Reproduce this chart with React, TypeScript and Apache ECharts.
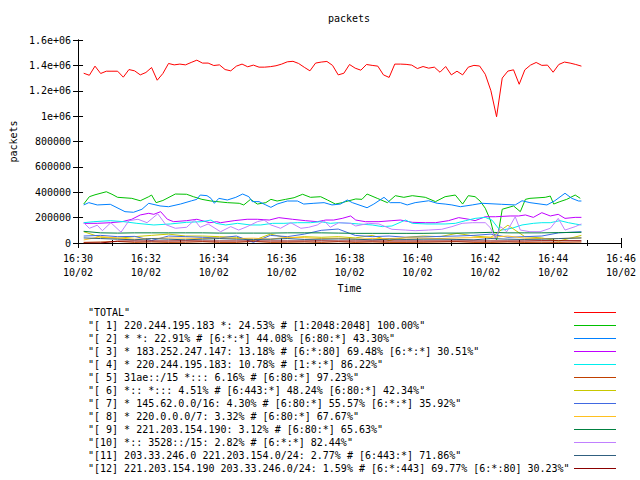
import React, { useEffect, useRef } from "react";
import * as echarts from "echarts";

const FONT = "'DejaVu Sans Mono', 'Liberation Mono', monospace";
const START_HOUR = 16;
const START_MIN = 30;
const DATE_LABEL = "10/02";

const legendNames = [
  '"TOTAL"',
  '"[ 1] 220.244.195.183 *: 24.53% # [1:2048:2048] 100.00%"',
  '"[ 2] * *: 22.91% # [6:*:*] 44.08% [6:80:*] 43.30%"',
  '"[ 3] * 183.252.247.147: 13.18% # [6:*:80] 69.48% [6:*:*] 30.51%"',
  '"[ 4] * 220.244.195.183: 10.78% # [1:*:*] 86.22%"',
  '"[ 5] 31ae::/15 *::: 6.16% # [6:80:*] 97.23%"',
  '"[ 6] *:: *::: 4.51% # [6:443:*] 48.24% [6:80:*] 42.34%"',
  '"[ 7] * 145.62.0.0/16: 4.30% # [6:80:*] 55.57% [6:*:*] 35.92%"',
  '"[ 8] * 220.0.0.0/7: 3.32% # [6:80:*] 67.67%"',
  '"[ 9] * 221.203.154.190: 3.12% # [6:80:*] 65.63%"',
  '"[10] *:: 3528::/15: 2.82% # [6:*:*] 82.44%"',
  '"[11] 203.33.246.0 221.203.154.0/24: 2.77% # [6:443:*] 71.86%"',
  '"[12] 221.203.154.190 203.33.246.0/24: 1.59% # [6:*:443] 69.77% [6:*:80] 30.23%"',
];

const colors = [
  "#ff0000", "#00c000", "#0080ff", "#c000ff", "#00eeee", "#c04000", "#c8c800",
  "#4169e1", "#ffc020", "#008040", "#c080ff", "#306080", "#8b0000",
];

// TOTAL, thousands of packets, one sample every 10 s from 16:30:10
const totalValues = [
  1338, 1322, 1394, 1336, 1354, 1354, 1354, 1307, 1367, 1357,
  1325, 1344, 1383, 1283, 1336, 1415, 1404, 1410, 1404, 1423,
  1441, 1418, 1418, 1399, 1404, 1367, 1357, 1394, 1410, 1389,
  1402, 1386, 1386, 1390, 1397, 1410, 1428, 1432, 1415, 1385,
  1357, 1418, 1426, 1431, 1400, 1325, 1338, 1407, 1378, 1362,
  1407, 1400, 1394, 1325, 1305, 1410, 1410, 1408, 1402, 1375,
  1391, 1378, 1386, 1346, 1391, 1325, 1354, 1325, 1386, 1400,
  1395, 1330, 1200, 995, 1300, 1355, 1365, 1251, 1365, 1402,
  1423, 1400, 1402, 1346, 1407, 1426, 1418, 1407, 1394,
];
const totalTimes = totalValues.map((_, i) => 10 + 10 * i);

// [seconds after 16:30, thousands of packets]
const s1: [number, number][] = [
  [10, 307], [20, 365], [30, 380], [50, 404], [60, 384], [70, 360], [95, 352], [110, 333],
  [125, 365], [130, 378], [138, 318], [150, 335], [172, 386], [192, 384], [204, 365],
  [219, 344], [235, 331], [264, 318], [285, 313], [293, 300], [305, 344], [317, 307],
  [332, 318], [341, 344], [352, 331], [367, 344], [382, 357], [397, 384], [411, 360],
  [429, 365], [441, 339], [455, 307], [467, 318], [473, 326], [491, 347], [502, 344],
  [511, 386], [529, 352], [547, 318], [561, 373], [576, 360], [591, 373], [614, 360],
  [632, 326], [649, 365], [667, 378], [680, 307], [690, 373], [702, 365], [711, 330],
  [720, 274], [729, 181], [735, 76], [740, 24], [745, 128], [750, 266], [770, 292],
  [782, 247], [791, 344], [799, 352], [826, 360], [835, 370], [841, 307], [852, 326],
  [864, 344], [879, 378], [888, 352],
];
const s2: [number, number][] = [
  [10, 300], [19, 318], [34, 300], [57, 305], [83, 247], [98, 242], [113, 266], [125, 313],
  [145, 292], [160, 286], [181, 307], [201, 333], [210, 344], [216, 378], [228, 373],
  [235, 352], [241, 313], [249, 352], [264, 339], [279, 360], [291, 386], [302, 365],
  [308, 326], [320, 326], [332, 300], [341, 281], [352, 307], [370, 331], [388, 331],
  [399, 307], [417, 313], [435, 318], [449, 300], [464, 307], [476, 339], [485, 318],
  [511, 278], [523, 307], [541, 360], [552, 318], [570, 318], [582, 300], [596, 318],
  [620, 333], [635, 313], [649, 307], [661, 300], [676, 286], [697, 300], [714, 313],
  [749, 305], [773, 300], [785, 333], [799, 318], [829, 300], [843, 333], [861, 392],
  [873, 352], [885, 331], [890, 331],
];
const s3: [number, number][] = [
  [10, 155], [34, 155], [57, 160], [78, 168], [95, 187], [110, 221], [125, 234], [134, 226],
  [146, 247], [158, 187], [169, 168], [192, 176], [210, 187], [233, 160], [245, 168],
  [252, 160], [276, 176], [299, 187], [317, 187], [338, 181], [355, 200], [379, 187],
  [402, 176], [423, 168], [438, 181], [452, 181], [467, 194], [482, 213], [491, 181],
  [508, 168], [532, 168], [555, 176], [570, 181], [591, 163], [614, 160], [632, 160],
  [655, 176], [673, 200], [691, 187], [702, 176], [720, 207], [738, 207], [764, 213],
  [779, 213], [791, 221], [805, 202], [820, 239], [835, 213], [849, 226], [861, 194],
  [879, 202], [890, 202],
];
const s4: [number, number][] = [
  [10, 160], [28, 168], [57, 176], [81, 168], [104, 155], [134, 142], [163, 150], [192, 163],
  [219, 168], [235, 181], [244, 155], [261, 142], [282, 155], [305, 142], [323, 142],
  [344, 155], [364, 155], [388, 160], [411, 160], [429, 168], [446, 155], [461, 160],
  [482, 155], [496, 150], [520, 142], [538, 129], [555, 134], [579, 181], [591, 155],
  [617, 150], [649, 150], [667, 155], [685, 176], [702, 194], [720, 202], [732, 180],
  [746, 100], [767, 116], [785, 142], [805, 155], [820, 160], [835, 160], [852, 176],
  [867, 160], [879, 150], [890, 142],
];
const s10: [number, number][] = [
  [10, 160], [20, 116], [34, 140], [43, 97], [58, 160], [76, 85], [90, 176], [106, 187],
  [122, 160], [141, 230], [155, 145], [172, 116], [192, 124], [206, 181], [216, 124],
  [230, 150], [252, 89], [270, 129], [284, 102], [299, 129], [317, 168], [329, 181],
  [341, 142], [358, 116], [376, 160], [394, 116], [408, 124], [423, 142], [435, 176],
  [446, 124], [461, 160], [482, 155], [491, 134], [514, 155], [532, 150], [555, 108],
  [579, 102], [596, 97], [620, 102], [643, 108], [661, 129], [679, 155], [697, 160],
  [720, 160], [729, 120], [738, 37], [747, 129], [758, 89], [773, 207], [782, 102],
  [799, 89], [817, 89], [835, 116], [849, 194], [861, 102], [879, 129], [890, 150],
];

// low-volume hosts, sampled every 30 s
const lowTimes = [
  10, 40, 70, 100, 130, 160, 190, 220, 250, 280, 310, 340, 370, 400, 430,
  460, 490, 520, 550, 580, 610, 640, 670, 700, 730, 760, 790, 820, 850, 890,
];
const s5 = [5, 8, 12, 5, 8, 5, 6, 10, 5, 5, 12, 5, 6, 8, 5, 10, 5, 8, 5, 5, 6, 8, 10, 5, 5, 8, 5, 6, 5, 8];
const s6 = [89, 45, 37, 50, 60, 70, 55, 55, 50, 45, 20, 70, 40, 50, 45, 50, 40, 60, 20, 45, 55, 50, 76, 55, 45, 140, 50, 40, 15, 60];
const s7 = [55, 60, 50, 52, 20, 55, 50, 45, 40, 55, 5, 60, 50, 70, 100, 110, 60, 50, 55, 45, 48, 52, 55, 60, 70, 45, 50, 55, 80, 89];
const s8 = [24, 50, 40, 30, 35, 40, 38, 35, 40, 35, 38, 30, 45, 42, 35, 38, 30, 35, 35, 40, 38, 35, 40, 42, 45, 55, 38, 35, 35, 40];
const s9 = [92, 80, 78, 80, 80, 80, 80, 80, 78, 78, 78, 78, 80, 80, 80, 78, 76, 76, 76, 76, 76, 78, 78, 80, 84, 80, 80, 80, 82, 84];
const s11 = [40, 35, 30, 25, 35, 30, 25, 30, 35, 30, 28, 30, 35, 28, 30, 32, 30, 25, 30, 28, 30, 30, 28, 25, 35, 30, 28, 30, 35, 40];
const s12 = [0, 0, 15, 16, 16, 16, 17, 16, 16, 16, 16, 16, 16, 16, 17, 16, 16, 16, 16, 16, 16, 16, 16, 16, 16, 16, 16, 18, 18, 18];

const yTickMax = 1600000;
const yTickStep = 200000;
const xMaxSec = 960;
const xStepSec = 120;

const pairs = (p: [number, number][]) => p.map(([t, v]) => [t, v * 1000]);
const onGrid = (times: number[], vals: number[]) => vals.map((v, i) => [times[i], v * 1000]);

const seriesData = [
  onGrid(totalTimes, totalValues),
  pairs(s1), pairs(s2), pairs(s3), pairs(s4),
  onGrid(lowTimes, s5), onGrid(lowTimes, s6), onGrid(lowTimes, s7), onGrid(lowTimes, s8),
  onGrid(lowTimes, s9), pairs(s10), onGrid(lowTimes, s11), onGrid(lowTimes, s12),
];

const pad = (n: number) => (n < 10 ? "0" + n : "" + n);
const timeLabel = (sec: number) => {
  const total = START_HOUR * 60 + START_MIN + Math.round(sec / 60);
  return `${pad(Math.floor(total / 60))}:${pad(total % 60)}\n${DATE_LABEL}`;
};
const yLabel = (v: number) => {
  if (v >= 1000000) return `${+(v / 1000000).toFixed(1)}e+06`;
  return String(v);
};

export default function App() {
  const ref = useRef<HTMLDivElement>(null);
  useEffect(() => {
    if (!ref.current) return;
    const chart = echarts.init(ref.current, undefined, { renderer: "svg" });
    const text = { fontFamily: FONT, fontSize: 10, color: "#000" };
    const xCommon = {
      type: "value" as const,
      min: 0,
      max: xMaxSec,
      interval: xStepSec,
      axisLine: { lineStyle: { color: "#000", width: 1 } },
      axisTick: { inside: true, length: 5, lineStyle: { color: "#000" } },
      minorTick: { show: true, splitNumber: 2, length: 3, lineStyle: { color: "#000" } },
      splitLine: { show: false },
    };
    const yCommon = {
      type: "value" as const,
      min: 0,
      max: yTickMax,
      interval: yTickStep,
      axisLine: { show: true, lineStyle: { color: "#000", width: 1 } },
      axisTick: { show: true, inside: true, length: 5, lineStyle: { color: "#000" } },
      splitLine: { show: false },
    };
    chart.setOption({
      animation: false,
      backgroundColor: "#fff",
      title: {
        text: "packets",
        left: 349,
        top: 13,
        padding: 0,
        textAlign: "center",
        textStyle: { ...text, fontWeight: "normal" },
      },
      grid: { left: 77, right: 19, top: 40, bottom: 237, containLabel: false },
      xAxis: [
        {
          ...xCommon,
          position: "bottom",
          name: "Time",
          nameLocation: "middle",
          nameGap: 40,
          nameTextStyle: text,
          axisLabel: { ...text, margin: 8, lineHeight: 14, formatter: timeLabel, showMaxLabel: true, showMinLabel: true },
        },
        { ...xCommon, position: "top", axisLabel: { show: false } },
      ],
      yAxis: [
        {
          ...yCommon,
          position: "left",
          name: "packets",
          nameLocation: "middle",
          nameGap: 59,
          nameTextStyle: text,
          axisLabel: { ...text, margin: 7, formatter: yLabel },
        },
        { ...yCommon, position: "right", axisLabel: { show: false } },
      ],
      legend: {
        orient: "vertical",
        left: 88,
        top: 306,
        align: "right",
        icon: "rect",
        itemWidth: 42,
        itemHeight: 1,
        itemGap: 0,
        padding: 0,
        selectedMode: false,
        data: legendNames,
        formatter: (name: string) => `{a|${name}}`,
        textStyle: {
          ...text,
          lineHeight: 13,
          rich: { a: { ...text, lineHeight: 13, width: 481, align: "left" } },
        },
      },
      series: legendNames.map((name, i) => ({
        name,
        type: "line",
        data: seriesData[i],
        showSymbol: false,
        symbol: "none",
        color: colors[i],
        lineStyle: { width: 1, color: colors[i] },
        xAxisIndex: 0,
        yAxisIndex: 0,
      })),
    });
    return () => chart.dispose();
  }, []);
  return (
    <div
      ref={ref}
      style={{ position: "fixed", left: 0, top: 0, width: 640, height: 480, background: "#fff" }}
    />
  );
}
